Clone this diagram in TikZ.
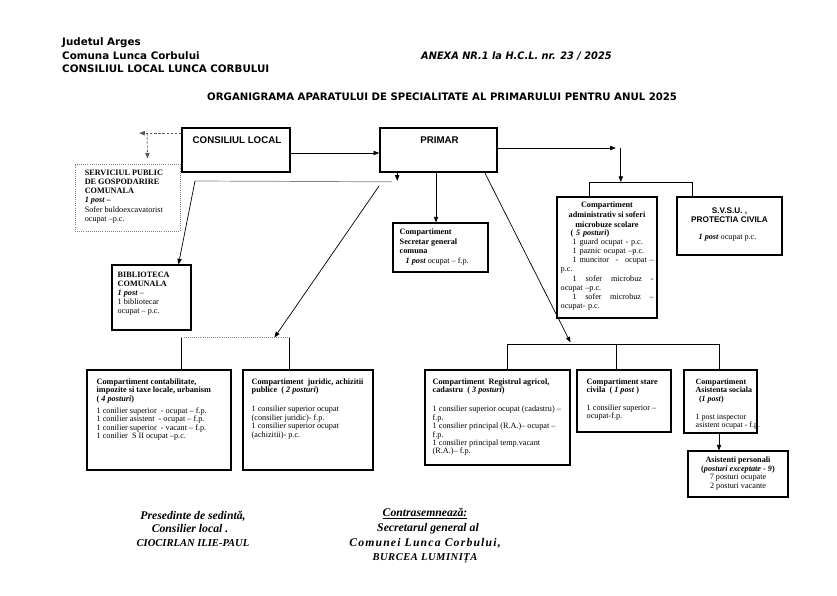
\documentclass[tikz,border=0pt]{standalone}
\usepackage{fontspec}
\usepackage{graphicx}
\setmainfont{Liberation Serif}
\newfontfamily\hfont{DejaVu Sans}
\newfontfamily\afont{Liberation Sans}
\usetikzlibrary{arrows.meta,calc,fit}
\newcommand{\bxfont}{\fontsize{7}{7.2}\selectfont}
\newcommand{\hdfont}{\hfont\bfseries\fontsize{8.8}{10}\selectfont}
\newcommand{\sgfont}{\bfseries\itshape\fontsize{10}{11}\selectfont}
\newcommand{\bi}[1]{\textbf{\textit{#1}}}

\tikzset{
  box/.style={draw,line width=0.9pt,inner sep=0},
  bigbox/.style={draw,line width=1.4pt,inner sep=0},
  dotbox/.style={draw,gray,densely dotted,line width=0.8pt,inner sep=0},
  btxt/.style={anchor=north west,inner sep=0,align=left,font=\bxfont},
  ctxt/.style={anchor=north,inner sep=0,align=center,font=\bxfont},
  arr/.style={-{Triangle[length=1.7mm,width=1.3mm]},line width=0.6pt},
  darr/.style={arr,gray!70!black,dash pattern=on 2pt off 1.5pt},
  link/.style={line width=0.6pt},
  dlink/.style={gray,densely dotted,line width=0.8pt},
}

\begin{document}
\begin{tikzpicture}[x=0.3mm,y=-0.3mm]
\useasboundingbox (0,0) rectangle (837,595);
% header
\node[anchor=base west,inner sep=0,font=\hdfont] (judet) at (62,46) {Judetul Arges};
\node[anchor=base west,inner sep=0,font=\hdfont] (comuna) at (62,59) {Comuna Lunca Corbului};
\node[anchor=base west,inner sep=0,font=\hdfont] (cl) at (62,72) {CONSILIUL LOCAL LUNCA CORBULUI};
\node[anchor=base west,inner sep=0,font=\hdfont\itshape] (anexa) at (421,59) {\scalebox{0.95}[1]{ANEXA NR.1 la H.C.L. nr. 23 / 2025}};
\node[anchor=base west,inner sep=0,font=\hdfont] (titlu) at (207,100) {\scalebox{0.985}[1]{ORGANIGRAMA APARATULUI DE SPECIALITATE AL PRIMARULUI PENTRU ANUL 2025}};

% boxes
\node[bigbox,fit={(182,128) (290,172)}] (consiliu) {};
\node[bigbox,fit={(380,128) (497,172)}] (primar) {};
\node[dotbox,fit={(75,164) (180,231)}] (serviciu) {};
\node[box,fit={(112,265) (191,330)}] (biblio) {};
\node[box,fit={(393,223) (488,272)}] (secr) {};
\node[box,fit={(557,197) (657,318)}] (adm) {};
\node[box,fit={(677,197) (782,255)}] (svsu) {};
\node[box,fit={(87,370) (231,470)}] (contab) {};
\node[box,fit={(243,370) (373,470)}] (jurid) {};
\node[box,fit={(425,370) (570,465)}] (regag) {};
\node[box,fit={(577,370) (671,432)}] (starec) {};
\node[box,fit={(684,370) (757,433)}] (asist) {};
\node[box,fit={(688,451) (788,497)}] (pers) {};

% box texts
\node[anchor=base,inner sep=0,font=\afont\bfseries\fontsize{8.3}{10}\selectfont] (consiliu-t) at ($(consiliu.north)+(1,16)$) {CONSILIUL LOCAL};
\node[anchor=base,inner sep=0,font=\afont\bfseries\fontsize{8.3}{10}\selectfont] (primar-t) at ($(primar.north)+(1,16)$) {PRIMAR};
\node[btxt,font=\fontsize{7}{7.9}\selectfont] (serviciu-t) at ($(serviciu.north west)+(10,6)$) {\textbf{SERVICIUL PUBLIC}\\\textbf{DE GOSPODARIRE}\\\textbf{COMUNALA}\\\bi{1 post –}\\Sofer buldoexcavatorist\\ocupat –p.c.};
\node[btxt,font=\fontsize{7}{7.8}\selectfont] (biblio-t) at ($(biblio.north west)+(6,7)$) {\textbf{BIBLIOTECA}\\\textbf{COMUNALA}\\\bi{1 post} –\\1 bibliotecar\\ocupat – p.c.};
\node[btxt,font=\fontsize{7}{8.3}\selectfont] (secr-t) at ($(secr.north west)+(7,6)$) {\textbf{Compartiment}\\\textbf{Secretar general}\\\textbf{comuna}\\\hspace*{1.8mm}\bi{1 post} ocupat – f.p.};
\node[ctxt,font=\bfseries\fontsize{7}{8.5}\selectfont] (adm-h) at ($(adm.north)+(0,5)$) {Compartiment\\administrativ si soferi\\microbuze scolare};
\node[btxt,text width=27.9mm,font=\fontsize{7}{7.8}\selectfont] (adm-t) at ($(adm.north west)+(4,33)$) {\hspace*{3mm}\textbf{(}\bi{ 5 posturi}\textbf{)}\\
  \hspace*{3.6mm}1 guard ocupat - p.c.\\
  \hspace*{3.6mm}1 paznic ocupat –p.c.\\
  \hspace*{3.6mm}1 muncitor \hfill - \hfill ocupat –\\
  p.c.\\
  \hspace*{3.6mm}1 \hfill sofer \hfill microbuz \hfill -\\
  ocupat –p.c.\\
  \hspace*{3.6mm}1 \hfill sofer \hfill microbuz \hfill –\\
  ocupat- p.c.};
\node[ctxt,font=\afont\bfseries\fontsize{7}{7.4}\selectfont] (svsu-h) at ($(svsu.north)+(0,11)$) {S.V.S.U. ,\\PROTECTIA CIVILA};
\node[ctxt] (svsu-t) at ($(svsu.north)+(-2,37)$) {\bi{1 post} ocupat p.c.};
\node[btxt] (contab-t) at ($(contab.north west)+(10,9)$) {\textbf{Compartiment contabilitate,}\\\textbf{impozite si taxe locale, urbanism}\\\textbf{(}\bi{ 4 posturi}\textbf{)}\\[3pt]
  1 conilier superior \ - ocupat – f.p.\\1 conilier asistent \ - ocupat – f.p.\\1 conilier superior \ - vacant – f.p.\\1 conilier \ S II ocupat –p.c.};
\node[btxt] (jurid-t) at ($(jurid.north west)+(9,9)$) {\textbf{Compartiment \ juridic, achizitii}\\\textbf{publice \ (}\bi{ 2 posturi}\textbf{)}\\[9pt]
  1 consilier superior ocupat\\(consilier juridic)- f.p.\\1 consilier superior ocupat\\(achizitii)- p.c.};
\node[btxt] (regag-t) at ($(regag.north west)+(8,9)$) {\textbf{Compartiment \ Registrul agricol,}\\\textbf{cadastru \ (}\bi{ 3 posturi}\textbf{)}\\[9pt]
  1 consilier superior ocupat (cadastru) –\\f.p.\\1 consilier principal (R.A.)– ocupat –\\f.p.\\1 consilier principal temp.vacant\\(R.A.)– f.p.};
\node[btxt] (starec-t) at ($(starec.north west)+(10,9)$) {\textbf{Compartiment stare}\\\textbf{civila \ (}\bi{ 1 post }\textbf{)}\\[7.5pt]
  1 consilier superior –\\ocupat-f.p.};
\node[btxt,font=\fontsize{6.8}{7.2}\selectfont] (asist-t) at ($(asist.north west)+(12,9)$) {\textbf{Compartiment}\\\textbf{Asistenta sociala}\\\hspace*{1mm}\textbf{(}\bi{1 post}\textbf{)}\\[8.5pt]
  1 post inspector\\asistent ocupat - f.p.};
\node[ctxt,font=\fontsize{7}{7.4}\selectfont] (pers-t) at ($(pers.north)+(0,6)$) {\textbf{Asistenti personali}\\\textbf{(}\bi{posturi exceptate - 9}\textbf{)}\\7 posturi ocupate\\2 posturi vacante};

% connectors
\draw[arr] ($(consiliu.east)+(0,3)$) -- ($(primar.west)+(0,3)$);
\coordinate (sp) at ($(consiliu.north west)+(-34,6)$);
\draw[darr] ($(consiliu.north west)+(0,6)$) -- ++(-42,0);
\draw[darr] (sp) -- ($(serviciu.north west)+(73,-5)$);
\coordinate (sv) at ($(primar.east)+(123,-2)$);
\draw[arr] ($(primar.east)+(0,-2)$) -- ($(sv)+(-5,0)$);
\draw[arr] (sv) -- ++(0,34);
\draw[link] ($(adm.north west)+(33,0)$) -- ++(0,-14) -| ($(svsu.north west)+(16,0)$);
\draw[arr] ($(primar.south)+(-2.5,0)$) -- ($(secr.north)+(-4.5,0)$);
\draw[arr] ($(primar.south west)+(18,0)$) -- ++(0,8);
\coordinate (bk1) at ($(primar.south west)+(13,9)$);
\coordinate (bk2) at (195,181);
\draw[link,gray] (bk1) -- (bk2);
\draw[arr] (bk2) -- ($(biblio.north west)+(67,0)$);
\coordinate (cb1) at ($(contab.north west)+(95,-32)$);
\coordinate (cb2) at ($(jurid.north west)+(47,-32)$);
\draw[link] (cb1) -- (cb1 |- contab.north);
\draw[link] (cb2) -- (cb2 |- jurid.north);
\draw[dlink] (cb1) -- (cb2);
\draw[arr] ($(primar.south west)+(0,13)$) -- ($(cb2)+(-15,0)$);
\coordinate (rb1) at ($(regag.north west)+(83,-25)$);
\coordinate (rb2) at ($(starec.north west)+(40,-25)$);
\coordinate (rb3) at ($(asist.north west)+(36,-25)$);
\draw[link] (rb1 |- regag.north) -- (rb1) -- (rb3) -- (rb3 |- asist.north);
\draw[link] (rb2) -- (rb2 |- starec.north);
\draw[arr] ($(primar.south east)+(-13,0)$) -- ($(rb1)+(63,-2)$);
\draw[arr] ($(asist.south)+(-1.5,0)$) -- ($(pers.north)+(-19,0)$);

% signatures
\node[anchor=base,inner sep=0,font=\sgfont] (pres1) at (193,519) {Presedinte de sedintă,};
\node[anchor=base,inner sep=0,font=\sgfont] (pres2) at (190,532) {Consilier local .};
\node[anchor=base,inner sep=0,font=\bfseries\itshape\fontsize{9}{10}\selectfont] (pres3) at (193,546) {CIOCIRLAN ILIE-PAUL};
\node[anchor=base,inner sep=0,font=\sgfont] (sec1) at (425,516) {\underline{Contrasemnează:}};
\node[anchor=base,inner sep=0,font=\sgfont] (sec2) at (428,531) {Secretarul general al};
\node[anchor=base,inner sep=0,font=\sgfont\addfontfeature{LetterSpace=10}] (sec3) at (425,546) {Comunei Lunca Corbului,};
\node[anchor=base,inner sep=0,font=\bfseries\itshape\fontsize{9}{10}\selectfont\addfontfeature{LetterSpace=5}] (sec4) at (425,560) {BURCEA LUMINIȚA};
\end{tikzpicture}
\end{document}
